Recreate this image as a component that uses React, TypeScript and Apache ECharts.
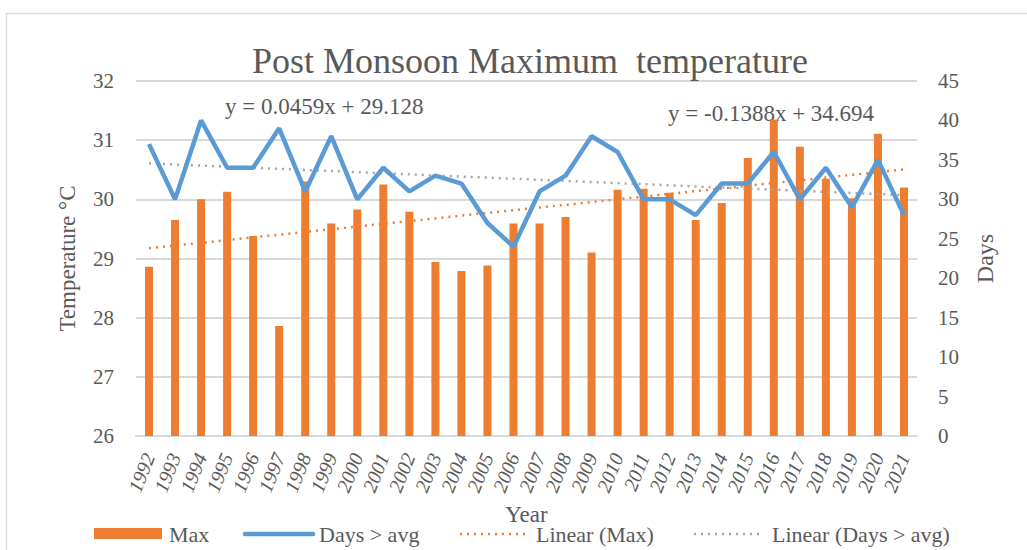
import React, { useEffect, useRef } from "react";
import * as echarts from "echarts";

const years = ["1992","1993","1994","1995","1996","1997","1998","1999","2000","2001","2002","2003","2004","2005","2006","2007","2008","2009","2010","2011","2012","2013","2014","2015","2016","2017","2018","2019","2020","2021"];
const maxTemp = [28.86,29.65,30.0,30.13,29.38,27.86,30.3,29.59,29.83,30.25,29.79,28.94,28.79,28.88,29.59,29.59,29.7,29.1,30.16,30.18,30.11,29.65,29.94,30.7,31.35,30.89,30.35,30.02,31.11,30.2];
const daysAboveAvg = [37,30,40,34,34,39,31,38,30,34,31,33,32,27,24,31,33,38,36,30,30,28,32,32,36,30,34,29,35,28];
const trendMax = { slope: 0.0459, intercept: 29.128 };
const trendDays = { slope: -0.1388, intercept: 34.694 };
const leftTicks = { min: 26, max: 32, step: 1 };
const rightTicks = { min: 0, max: 45, step: 5 };
const legendLabels = ["Max", "Days > avg", "Linear (Max)", "Linear (Days > avg)"];

const FONT = "Liberation Serif";
const GREY = "#595959";
const ORANGE = "#ed7d31";
const BLUE = "#5b9bd5";
const GRAY2 = "#a5a5a5";

export default function App() {
  const ref = useRef<HTMLDivElement>(null);
  useEffect(() => {
    if (!ref.current) return;
    const chart = echarts.init(ref.current, null, { renderer: "svg" });
    const trendMaxData = years.map((_, i) => +(trendMax.intercept + trendMax.slope * (i + 1)).toFixed(4));
    const trendDaysData = years.map((_, i) => +(trendDays.intercept + trendDays.slope * (i + 1)).toFixed(4));
    const ly = 534;
    const txt = (x: number, y: number, text: string, size: number, va = "middle") => ({
      type: "text", x, y,
      style: { text, fontFamily: FONT, fontSize: size, fill: GREY, verticalAlign: va },
    });
    chart.setOption({
      animation: false,
      textStyle: { fontFamily: FONT },
      title: {
        text: "Post Monsoon Maximum  temperature",
        left: 525,
        textAlign: "center",
        top: 38,
        textStyle: { fontFamily: FONT, fontSize: 36, fontWeight: "normal", color: GREY },
      },
      graphic: [
        { type: "rect", shape: { x: 6.5, y: 13.5, width: 1040, height: 560 }, style: { fill: "none", stroke: "#d9d9d9", lineWidth: 1.5 }, silent: true },
        txt(225, 106, "y = 0.0459x + 29.128", 23),
        txt(668, 113, "y = -0.1388x + 34.694", 23),
        // legend
        { type: "rect", shape: { x: 94, y: 528, width: 68, height: 11 }, style: { fill: ORANGE } },
        txt(169, ly, legendLabels[0], 22),
        { type: "line", shape: { x1: 245, y1: ly, x2: 313, y2: ly }, style: { stroke: BLUE, lineWidth: 4.5, lineCap: "round" } },
        txt(319, ly, legendLabels[1], 22),
        { type: "line", shape: { x1: 460, y1: ly, x2: 526, y2: ly }, style: { stroke: ORANGE, lineWidth: 2.5, lineDash: [2, 5] } },
        txt(536, ly, legendLabels[2], 22),
        { type: "line", shape: { x1: 694, y1: ly, x2: 760, y2: ly }, style: { stroke: GRAY2, lineWidth: 2.5, lineDash: [2, 5] } },
        txt(772, ly, legendLabels[3], 22),
      ],
      grid: { left: 136, right: 110, top: 81, bottom: 114 },
      xAxis: {
        type: "category",
        data: years,
        name: "Year",
        nameLocation: "middle",
        nameGap: 66,
        nameTextStyle: { fontFamily: FONT, fontSize: 23, color: GREY },
        axisLine: { lineStyle: { color: "#d9d9d9", width: 2 } },
        axisTick: { show: false },
        axisLabel: { rotate: 68, margin: 18, fontFamily: FONT, fontSize: 20, fontStyle: "italic", color: GREY, interval: 0 },
      },
      yAxis: [
        {
          type: "value",
          min: leftTicks.min,
          max: leftTicks.max,
          interval: leftTicks.step,
          name: "Temperature °C",
          nameLocation: "middle",
          nameRotate: 90,
          nameGap: 57,
          nameTextStyle: { fontFamily: FONT, fontSize: 23, color: GREY },
          axisLine: { show: false },
          axisTick: { show: false },
          axisLabel: { margin: 22, fontFamily: FONT, fontSize: 21, color: GREY },
          splitLine: { lineStyle: { color: "#d9d9d9", width: 2 } },
        },
        {
          type: "value",
          min: rightTicks.min,
          max: rightTicks.max,
          interval: rightTicks.step,
          name: "Days",
          nameLocation: "middle",
          nameRotate: 90,
          nameGap: 56,
          nameTextStyle: { fontFamily: FONT, fontSize: 24, color: GREY },
          axisLine: { show: false },
          axisTick: { show: false },
          axisLabel: { margin: 21, fontFamily: FONT, fontSize: 21, color: GREY },
          splitLine: { show: false },
        },
      ],
      series: [
        {
          name: "Max",
          type: "bar",
          data: maxTemp,
          barWidth: 8,
          itemStyle: { color: ORANGE },
          z: 1,
        },
        {
          name: "Linear (Max)",
          type: "line",
          data: trendMaxData,
          symbol: "none",
          lineStyle: { color: ORANGE, width: 2.5, type: [2, 5] },
          itemStyle: { color: ORANGE },
          z: 2,
        },
        {
          name: "Linear (Days > avg)",
          type: "line",
          yAxisIndex: 1,
          data: trendDaysData,
          symbol: "none",
          lineStyle: { color: GRAY2, width: 2.5, type: [2, 5] },
          itemStyle: { color: GRAY2 },
          z: 2,
        },
        {
          name: "Days > avg",
          type: "line",
          yAxisIndex: 1,
          data: daysAboveAvg,
          symbol: "none",
          lineStyle: { color: BLUE, width: 4.5 },
          itemStyle: { color: BLUE },
          z: 3,
        },
      ],
    });
    return () => chart.dispose();
  }, []);
  return <div ref={ref} style={{ position: "fixed", left: 0, top: 0, width: 1027, height: 550, background: "#fff" }} />;
}
